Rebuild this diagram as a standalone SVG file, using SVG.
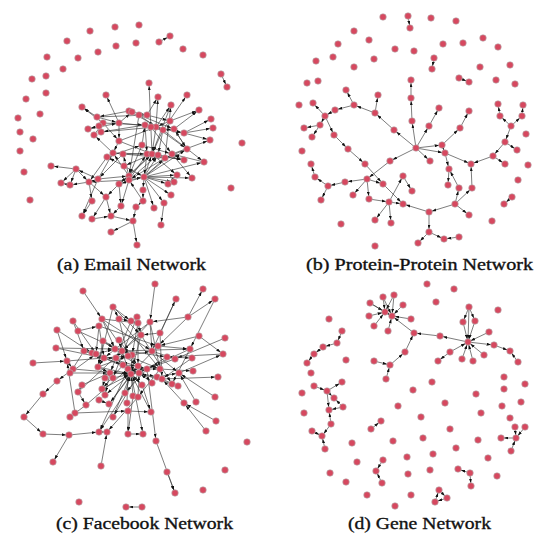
<svg xmlns="http://www.w3.org/2000/svg" width="535" height="540" viewBox="0 0 535 540">
<style>
.n{fill:#d6485f;stroke:#b5b5b5;stroke-width:.6}
.e line{stroke:#333;stroke-width:.75;stroke-opacity:.85;marker-end:url(#ah)}
.cap{font-family:"Liberation Serif","DejaVu Serif",serif;font-size:17px;fill:#111;stroke:#111;stroke-width:.35}
</style>
<defs>
<marker id="ah" markerUnits="userSpaceOnUse" viewBox="0 0 5 3" markerWidth="5" markerHeight="3" refX="7.4" refY="1.5" orient="auto"><path d="M0,0 L4.5,1.5 L0,3 z" fill="#111"/></marker>
</defs>
<rect width="535" height="540" fill="#fff"/>

<g id="connectors-a" class="e">
<line x1="159" y1="42" x2="170" y2="36"/><line x1="221" y1="74" x2="227" y2="87"/>
<line x1="152" y1="154" x2="149" y2="83"/><line x1="119" y1="123" x2="106" y2="95"/><line x1="147" y1="115" x2="158" y2="97"/><line x1="156" y1="127" x2="158" y2="97"/><line x1="163" y1="130" x2="187" y2="95"/><line x1="156" y1="127" x2="171" y2="105"/><line x1="165" y1="158" x2="171" y2="105"/><line x1="97" y1="117" x2="82" y2="107"/><line x1="103" y1="123" x2="82" y2="107"/><line x1="174" y1="129" x2="199" y2="110"/><line x1="184" y1="133" x2="211" y2="119"/><line x1="184" y1="133" x2="213" y2="128"/><line x1="184" y1="133" x2="210" y2="140"/><line x1="172" y1="154" x2="210" y2="140"/><line x1="129" y1="111" x2="97" y2="117"/><line x1="132" y1="112" x2="147" y2="115"/><line x1="139" y1="115" x2="156" y2="127"/><line x1="119" y1="123" x2="132" y2="112"/><line x1="97" y1="117" x2="119" y2="123"/><line x1="103" y1="123" x2="145" y2="125"/><line x1="88" y1="129" x2="119" y2="123"/><line x1="94" y1="135" x2="103" y2="123"/><line x1="101" y1="132" x2="156" y2="127"/><line x1="145" y1="125" x2="163" y2="130"/><line x1="156" y1="127" x2="184" y2="133"/><line x1="163" y1="130" x2="174" y2="129"/><line x1="170" y1="121" x2="156" y2="127"/><line x1="147" y1="115" x2="170" y2="121"/><line x1="119" y1="123" x2="119" y2="141"/><line x1="119" y1="141" x2="113" y2="153"/><line x1="142" y1="145" x2="145" y2="125"/><line x1="145" y1="125" x2="147" y2="154"/><line x1="156" y1="127" x2="152" y2="154"/><line x1="163" y1="130" x2="158" y2="155"/><line x1="187" y1="149" x2="165" y2="158"/><line x1="204" y1="162" x2="172" y2="154"/><line x1="184" y1="160" x2="172" y2="154"/><line x1="152" y1="154" x2="184" y2="160"/><line x1="113" y1="153" x2="147" y2="154"/><line x1="123" y1="154" x2="152" y2="154"/><line x1="107" y1="157" x2="142" y2="145"/><line x1="124" y1="166" x2="107" y2="157"/><line x1="129" y1="176" x2="123" y2="154"/><line x1="144" y1="177" x2="152" y2="154"/><line x1="144" y1="177" x2="158" y2="155"/><line x1="144" y1="177" x2="165" y2="158"/><line x1="144" y1="177" x2="172" y2="154"/><line x1="144" y1="177" x2="187" y2="149"/><line x1="144" y1="177" x2="204" y2="162"/><line x1="144" y1="177" x2="177" y2="175"/><line x1="144" y1="177" x2="192" y2="178"/><line x1="129" y1="180" x2="144" y2="177"/><line x1="129" y1="180" x2="158" y2="155"/><line x1="129" y1="180" x2="147" y2="154"/><line x1="76" y1="169" x2="51" y2="166"/><line x1="76" y1="169" x2="61" y2="183"/><line x1="76" y1="169" x2="70" y2="185"/><line x1="76" y1="169" x2="89" y2="182"/><line x1="89" y1="182" x2="98" y2="179"/><line x1="98" y1="179" x2="129" y2="176"/><line x1="89" y1="182" x2="70" y2="185"/><line x1="107" y1="157" x2="89" y2="182"/><line x1="119" y1="184" x2="129" y2="176"/><line x1="89" y1="182" x2="92" y2="201"/><line x1="89" y1="182" x2="106" y2="197"/><line x1="119" y1="184" x2="106" y2="197"/><line x1="129" y1="180" x2="121" y2="206"/><line x1="144" y1="177" x2="143" y2="190"/><line x1="143" y1="190" x2="143" y2="201"/><line x1="144" y1="177" x2="168" y2="184"/><line x1="144" y1="177" x2="174" y2="182"/><line x1="144" y1="177" x2="171" y2="195"/><line x1="144" y1="177" x2="164" y2="203"/><line x1="144" y1="177" x2="154" y2="208"/><line x1="143" y1="201" x2="136" y2="207"/><line x1="106" y1="197" x2="92" y2="219"/><line x1="92" y1="201" x2="82" y2="216"/><line x1="106" y1="197" x2="111" y2="216"/><line x1="121" y1="206" x2="111" y2="216"/><line x1="92" y1="219" x2="111" y2="216"/><line x1="111" y1="216" x2="133" y2="221"/><line x1="133" y1="221" x2="137" y2="245"/><line x1="133" y1="221" x2="111" y2="232"/><line x1="136" y1="207" x2="133" y2="221"/><line x1="164" y1="203" x2="161" y2="225"/><line x1="98" y1="179" x2="82" y2="216"/><line x1="158" y1="155" x2="184" y2="160"/><line x1="172" y1="154" x2="192" y2="178"/><line x1="177" y1="175" x2="168" y2="184"/><line x1="152" y1="154" x2="124" y2="166"/><line x1="129" y1="176" x2="113" y2="153"/><line x1="151" y1="127" x2="172" y2="154"/><line x1="99" y1="126" x2="88" y2="129"/><line x1="101" y1="132" x2="99" y2="126"/><line x1="113" y1="153" x2="94" y2="135"/><line x1="142" y1="145" x2="129" y2="176"/><line x1="145" y1="125" x2="101" y2="132"/><line x1="171" y1="105" x2="152" y2="154"/><line x1="119" y1="141" x2="156" y2="127"/><line x1="187" y1="149" x2="174" y2="129"/><line x1="163" y1="130" x2="152" y2="154"/><line x1="165" y1="158" x2="129" y2="180"/><line x1="152" y1="154" x2="119" y2="184"/><line x1="139" y1="115" x2="129" y2="176"/><line x1="147" y1="154" x2="144" y2="177"/><line x1="174" y1="129" x2="187" y2="149"/><line x1="170" y1="121" x2="199" y2="110"/><line x1="98" y1="179" x2="76" y2="169"/><line x1="129" y1="180" x2="89" y2="182"/><line x1="123" y1="154" x2="98" y2="179"/><line x1="143" y1="201" x2="129" y2="180"/><line x1="119" y1="184" x2="121" y2="206"/><line x1="70" y1="185" x2="61" y2="183"/>
<line x1="97" y1="117" x2="147" y2="115"/><line x1="129" y1="111" x2="163" y2="130"/><line x1="119" y1="123" x2="156" y2="127"/><line x1="103" y1="123" x2="119" y2="141"/><line x1="145" y1="125" x2="184" y2="133"/><line x1="156" y1="127" x2="187" y2="149"/><line x1="113" y1="153" x2="165" y2="158"/><line x1="119" y1="141" x2="152" y2="154"/><line x1="142" y1="145" x2="172" y2="154"/><line x1="124" y1="166" x2="144" y2="177"/><line x1="129" y1="176" x2="152" y2="154"/><line x1="98" y1="179" x2="113" y2="153"/><line x1="147" y1="154" x2="184" y2="160"/><line x1="152" y1="154" x2="177" y2="175"/><line x1="163" y1="130" x2="204" y2="162"/><line x1="139" y1="115" x2="174" y2="129"/><line x1="144" y1="177" x2="119" y2="184"/>
</g>

<g id="connectors-b" class="e">
<line x1="408" y1="16" x2="410" y2="28"/><line x1="434" y1="58" x2="432" y2="69"/><line x1="459" y1="78" x2="469" y2="82"/><line x1="512" y1="197" x2="504" y2="204"/>
<line x1="416" y1="148" x2="412" y2="121"/><line x1="412" y1="121" x2="411" y2="98"/><line x1="411" y1="98" x2="411" y2="80"/><line x1="416" y1="148" x2="429" y2="126"/><line x1="429" y1="126" x2="439" y2="108"/><line x1="416" y1="148" x2="442" y2="145"/><line x1="442" y1="145" x2="460" y2="128"/><line x1="460" y1="128" x2="469" y2="111"/><line x1="416" y1="148" x2="445" y2="153"/><line x1="445" y1="153" x2="471" y2="164"/><line x1="442" y1="145" x2="445" y2="153"/><line x1="416" y1="148" x2="430" y2="161"/><line x1="445" y1="153" x2="449" y2="169"/><line x1="449" y1="169" x2="448" y2="185"/><line x1="416" y1="148" x2="394" y2="130"/><line x1="394" y1="130" x2="375" y2="113"/><line x1="375" y1="113" x2="378" y2="95"/><line x1="375" y1="113" x2="354" y2="105"/><line x1="354" y1="105" x2="346" y2="90"/><line x1="354" y1="105" x2="335" y2="110"/><line x1="335" y1="110" x2="325" y2="116"/><line x1="325" y1="116" x2="313" y2="103"/><line x1="325" y1="116" x2="320" y2="125"/><line x1="320" y1="125" x2="304" y2="128"/><line x1="320" y1="125" x2="312" y2="137"/><line x1="325" y1="116" x2="334" y2="135"/><line x1="334" y1="135" x2="348" y2="149"/><line x1="348" y1="149" x2="365" y2="164"/><line x1="365" y1="164" x2="383" y2="184"/><line x1="383" y1="184" x2="403" y2="204"/><line x1="416" y1="148" x2="390" y2="161"/><line x1="390" y1="161" x2="367" y2="179"/><line x1="367" y1="179" x2="345" y2="182"/><line x1="345" y1="182" x2="328" y2="186"/><line x1="328" y1="186" x2="321" y2="200"/><line x1="328" y1="186" x2="315" y2="177"/><line x1="315" y1="177" x2="311" y2="164"/><line x1="367" y1="179" x2="353" y2="195"/><line x1="367" y1="179" x2="369" y2="199"/><line x1="367" y1="179" x2="383" y2="184"/><line x1="369" y1="199" x2="389" y2="202"/><line x1="389" y1="202" x2="403" y2="176"/><line x1="403" y1="176" x2="412" y2="191"/><line x1="389" y1="202" x2="375" y2="220"/><line x1="389" y1="202" x2="391" y2="223"/><line x1="389" y1="202" x2="403" y2="204"/><line x1="429" y1="212" x2="403" y2="204"/><line x1="455" y1="204" x2="429" y2="212"/><line x1="455" y1="204" x2="469" y2="215"/><line x1="455" y1="204" x2="472" y2="188"/><line x1="472" y1="188" x2="471" y2="164"/><line x1="455" y1="204" x2="459" y2="188"/><line x1="459" y1="188" x2="449" y2="169"/><line x1="493" y1="156" x2="471" y2="164"/><line x1="493" y1="156" x2="505" y2="164"/><line x1="505" y1="142" x2="493" y2="156"/><line x1="505" y1="142" x2="517" y2="150"/><line x1="511" y1="126" x2="505" y2="142"/><line x1="511" y1="126" x2="500" y2="116"/><line x1="500" y1="116" x2="498" y2="104"/><line x1="511" y1="126" x2="522" y2="116"/><line x1="522" y1="116" x2="523" y2="105"/><line x1="429" y1="212" x2="429" y2="232"/><line x1="429" y1="232" x2="418" y2="243"/><line x1="429" y1="232" x2="444" y2="239"/><line x1="459" y1="237" x2="444" y2="239"/>
</g>

<g id="connectors-c" class="e">
<line x1="155" y1="284" x2="150" y2="322"/><line x1="83" y1="291" x2="102" y2="319"/><line x1="188" y1="317" x2="203" y2="289"/><line x1="188" y1="317" x2="215" y2="299"/><line x1="160" y1="333" x2="176" y2="299"/><line x1="113" y1="307" x2="131" y2="321"/><line x1="113" y1="307" x2="119" y2="319"/><line x1="188" y1="317" x2="150" y2="322"/><line x1="188" y1="317" x2="158" y2="346"/><line x1="73" y1="321" x2="96" y2="354"/><line x1="102" y1="319" x2="138" y2="323"/><line x1="102" y1="319" x2="128" y2="356"/><line x1="119" y1="319" x2="131" y2="321"/><line x1="131" y1="321" x2="138" y2="323"/><line x1="137" y1="317" x2="141" y2="335"/><line x1="138" y1="323" x2="132" y2="355"/><line x1="150" y1="322" x2="152" y2="351"/><line x1="150" y1="322" x2="116" y2="358"/><line x1="57" y1="330" x2="92" y2="353"/><line x1="78" y1="331" x2="99" y2="326"/><line x1="99" y1="326" x2="96" y2="354"/><line x1="160" y1="333" x2="141" y2="335"/><line x1="141" y1="335" x2="122" y2="351"/><line x1="199" y1="336" x2="158" y2="346"/><line x1="199" y1="336" x2="223" y2="354"/><line x1="225" y1="338" x2="175" y2="359"/><line x1="103" y1="341" x2="115" y2="349"/><line x1="119" y1="340" x2="122" y2="351"/><line x1="158" y1="346" x2="190" y2="349"/><line x1="56" y1="348" x2="104" y2="358"/><line x1="84" y1="351" x2="92" y2="353"/><line x1="96" y1="354" x2="115" y2="349"/><line x1="115" y1="349" x2="167" y2="357"/><line x1="122" y1="351" x2="190" y2="349"/><line x1="132" y1="355" x2="152" y2="351"/><line x1="128" y1="356" x2="160" y2="369"/><line x1="152" y1="351" x2="175" y2="359"/><line x1="167" y1="357" x2="192" y2="358"/><line x1="33" y1="363" x2="67" y2="361"/><line x1="67" y1="361" x2="73" y2="369"/><line x1="104" y1="358" x2="116" y2="358"/><line x1="98" y1="367" x2="128" y2="356"/><line x1="123" y1="365" x2="138" y2="366"/><line x1="128" y1="369" x2="147" y2="369"/><line x1="147" y1="369" x2="160" y2="369"/><line x1="160" y1="369" x2="193" y2="371"/><line x1="73" y1="369" x2="57" y2="381"/><line x1="70" y1="373" x2="110" y2="373"/><line x1="110" y1="373" x2="131" y2="374"/><line x1="131" y1="374" x2="139" y2="373"/><line x1="139" y1="373" x2="157" y2="377"/><line x1="157" y1="377" x2="179" y2="373"/><line x1="162" y1="379" x2="218" y2="377"/><line x1="179" y1="373" x2="223" y2="354"/><line x1="57" y1="381" x2="43" y2="394"/><line x1="43" y1="394" x2="24" y2="417"/><line x1="24" y1="417" x2="43" y2="434"/><line x1="43" y1="434" x2="69" y2="435"/><line x1="69" y1="435" x2="53" y2="462"/><line x1="69" y1="435" x2="99" y2="432"/><line x1="82" y1="385" x2="78" y2="392"/><line x1="78" y1="392" x2="86" y2="405"/><line x1="86" y1="405" x2="70" y2="417"/><line x1="75" y1="413" x2="67" y2="361"/><line x1="105" y1="378" x2="102" y2="389"/><line x1="113" y1="378" x2="131" y2="374"/><line x1="102" y1="389" x2="105" y2="395"/><line x1="142" y1="385" x2="131" y2="374"/><line x1="152" y1="383" x2="139" y2="373"/><line x1="172" y1="384" x2="139" y2="373"/><line x1="178" y1="386" x2="157" y2="377"/><line x1="125" y1="393" x2="131" y2="374"/><line x1="133" y1="396" x2="131" y2="374"/><line x1="138" y1="397" x2="139" y2="373"/><line x1="215" y1="397" x2="179" y2="373"/><line x1="99" y1="400" x2="109" y2="404"/><line x1="109" y1="404" x2="131" y2="374"/><line x1="127" y1="403" x2="128" y2="369"/><line x1="184" y1="403" x2="162" y2="379"/><line x1="196" y1="402" x2="179" y2="373"/><line x1="151" y1="412" x2="131" y2="374"/><line x1="128" y1="411" x2="128" y2="434"/><line x1="113" y1="417" x2="131" y2="374"/><line x1="216" y1="421" x2="184" y2="403"/><line x1="206" y1="431" x2="184" y2="403"/><line x1="99" y1="432" x2="107" y2="432"/><line x1="101" y1="466" x2="107" y2="432"/><line x1="128" y1="434" x2="143" y2="434"/><line x1="156" y1="441" x2="175" y2="493"/><line x1="147" y1="369" x2="156" y2="441"/><line x1="167" y1="472" x2="175" y2="493"/><line x1="142" y1="507" x2="126" y2="507"/><line x1="92" y1="353" x2="123" y2="365"/><line x1="104" y1="358" x2="98" y2="367"/><line x1="116" y1="358" x2="131" y2="374"/><line x1="122" y1="351" x2="128" y2="369"/><line x1="132" y1="355" x2="131" y2="374"/><line x1="115" y1="349" x2="138" y2="366"/><line x1="98" y1="367" x2="110" y2="373"/><line x1="96" y1="354" x2="147" y2="369"/><line x1="119" y1="319" x2="128" y2="356"/><line x1="103" y1="341" x2="98" y2="367"/><line x1="99" y1="326" x2="104" y2="358"/><line x1="138" y1="323" x2="138" y2="366"/><line x1="141" y1="335" x2="131" y2="374"/><line x1="113" y1="307" x2="98" y2="367"/><line x1="131" y1="321" x2="110" y2="373"/><line x1="131" y1="374" x2="105" y2="395"/><line x1="139" y1="373" x2="113" y2="417"/><line x1="128" y1="369" x2="99" y2="432"/><line x1="138" y1="397" x2="107" y2="432"/><line x1="131" y1="374" x2="143" y2="434"/><line x1="84" y1="351" x2="70" y2="373"/><line x1="57" y1="330" x2="67" y2="361"/><line x1="73" y1="321" x2="84" y2="351"/><line x1="150" y1="322" x2="160" y2="369"/><line x1="160" y1="333" x2="162" y2="379"/><line x1="152" y1="351" x2="179" y2="373"/><line x1="190" y1="349" x2="172" y2="384"/><line x1="102" y1="389" x2="131" y2="374"/><line x1="78" y1="392" x2="122" y2="351"/><line x1="86" y1="405" x2="128" y2="369"/><line x1="75" y1="413" x2="128" y2="411"/><line x1="128" y1="411" x2="151" y2="412"/><line x1="102" y1="319" x2="115" y2="349"/>
<line x1="56" y1="348" x2="115" y2="349"/><line x1="67" y1="361" x2="128" y2="356"/><line x1="73" y1="369" x2="131" y2="374"/><line x1="70" y1="373" x2="96" y2="354"/><line x1="78" y1="331" x2="122" y2="351"/><line x1="102" y1="319" x2="152" y2="351"/><line x1="119" y1="319" x2="160" y2="369"/><line x1="137" y1="317" x2="113" y2="378"/><line x1="150" y1="322" x2="104" y2="358"/><line x1="141" y1="335" x2="172" y2="384"/><line x1="158" y1="346" x2="131" y2="374"/><line x1="167" y1="357" x2="139" y2="373"/><line x1="175" y1="359" x2="131" y2="374"/><line x1="190" y1="349" x2="147" y2="369"/><line x1="192" y1="358" x2="162" y2="379"/><line x1="223" y1="354" x2="167" y2="357"/><line x1="98" y1="367" x2="131" y2="374"/><line x1="92" y1="353" x2="139" y2="373"/><line x1="110" y1="373" x2="105" y2="395"/><line x1="125" y1="393" x2="99" y2="432"/><line x1="133" y1="396" x2="128" y2="434"/><line x1="142" y1="385" x2="151" y2="412"/><line x1="82" y1="385" x2="110" y2="373"/><line x1="103" y1="341" x2="132" y2="355"/><line x1="119" y1="340" x2="138" y2="366"/><line x1="113" y1="307" x2="141" y2="335"/><line x1="99" y1="326" x2="158" y2="346"/><line x1="215" y1="299" x2="190" y2="349"/><line x1="176" y1="299" x2="152" y2="351"/><line x1="123" y1="365" x2="102" y2="389"/><line x1="138" y1="366" x2="109" y2="404"/><line x1="147" y1="369" x2="125" y2="393"/><line x1="160" y1="369" x2="138" y2="397"/><line x1="116" y1="358" x2="142" y2="385"/><line x1="128" y1="356" x2="152" y2="383"/>
</g>

<g id="connectors-d" class="e">
<line x1="383" y1="297" x2="385" y2="312"/><line x1="394" y1="295" x2="385" y2="312"/><line x1="370" y1="303" x2="385" y2="312"/><line x1="403" y1="305" x2="392" y2="316"/><line x1="369" y1="316" x2="385" y2="312"/><line x1="374" y1="326" x2="385" y2="312"/><line x1="388" y1="331" x2="392" y2="316"/><line x1="411" y1="319" x2="392" y2="316"/><line x1="383" y1="297" x2="392" y2="316"/><line x1="394" y1="295" x2="392" y2="316"/><line x1="370" y1="303" x2="392" y2="316"/><line x1="385" y1="312" x2="392" y2="316"/><line x1="414" y1="333" x2="392" y2="316"/><line x1="440" y1="336" x2="414" y2="333"/><line x1="468" y1="342" x2="440" y2="336"/>
<line x1="469" y1="307" x2="468" y2="342"/><line x1="469" y1="307" x2="463" y2="322"/><line x1="469" y1="307" x2="475" y2="321"/><line x1="463" y1="322" x2="468" y2="342"/><line x1="475" y1="321" x2="468" y2="342"/><line x1="489" y1="332" x2="468" y2="342"/><line x1="468" y1="342" x2="494" y2="345"/><line x1="484" y1="355" x2="468" y2="342"/><line x1="473" y1="361" x2="468" y2="342"/><line x1="462" y1="359" x2="468" y2="342"/><line x1="450" y1="352" x2="468" y2="342"/><line x1="450" y1="352" x2="438" y2="361"/><line x1="494" y1="345" x2="510" y2="351"/><line x1="518" y1="362" x2="510" y2="351"/>
<line x1="405" y1="352" x2="414" y2="333"/><line x1="390" y1="365" x2="405" y2="352"/><line x1="374" y1="361" x2="390" y2="365"/><line x1="386" y1="379" x2="390" y2="365"/>
<line x1="342" y1="331" x2="337" y2="343"/><line x1="337" y1="343" x2="323" y2="347"/><line x1="323" y1="347" x2="314" y2="354"/><line x1="314" y1="354" x2="307" y2="363"/>
<line x1="314" y1="386" x2="327" y2="391"/><line x1="327" y1="391" x2="342" y2="382"/><line x1="327" y1="391" x2="334" y2="398"/><line x1="343" y1="407" x2="334" y2="398"/><line x1="327" y1="391" x2="329" y2="410"/><line x1="343" y1="407" x2="329" y2="410"/><line x1="331" y1="424" x2="329" y2="410"/><line x1="331" y1="424" x2="322" y2="436"/><line x1="312" y1="431" x2="322" y2="436"/><line x1="325" y1="449" x2="322" y2="436"/>
<line x1="371" y1="429" x2="381" y2="421"/>
<line x1="515" y1="427" x2="516" y2="438"/><line x1="525" y1="427" x2="516" y2="438"/><line x1="516" y1="438" x2="501" y2="438"/><line x1="511" y1="451" x2="516" y2="438"/>
<line x1="383" y1="460" x2="376" y2="471"/><line x1="382" y1="483" x2="376" y2="471"/>
<line x1="470" y1="473" x2="458" y2="469"/><line x1="470" y1="473" x2="471" y2="486"/>
<line x1="439" y1="490" x2="447" y2="498"/><line x1="447" y1="498" x2="435" y2="502"/><line x1="435" y1="502" x2="439" y2="490"/>
</g>

<g id="nodes-a">
<circle class="n" r="3.3" cx="115" cy="27"/><circle class="n" r="3.3" cx="139" cy="25"/><circle class="n" r="3.3" cx="90" cy="31"/><circle class="n" r="3.3" cx="67" cy="41"/><circle class="n" r="3.3" cx="116" cy="46"/><circle class="n" r="3.3" cx="136" cy="43"/><circle class="n" r="3.3" cx="159" cy="42"/><circle class="n" r="3.3" cx="170" cy="36"/><circle class="n" r="3.3" cx="183" cy="49"/><circle class="n" r="3.3" cx="203" cy="55"/><circle class="n" r="3.3" cx="47" cy="57"/><circle class="n" r="3.3" cx="78" cy="58"/><circle class="n" r="3.3" cx="98" cy="52"/><circle class="n" r="3.3" cx="63" cy="69"/><circle class="n" r="3.3" cx="32" cy="79"/><circle class="n" r="3.3" cx="46" cy="76"/><circle class="n" r="3.3" cx="26" cy="99"/><circle class="n" r="3.3" cx="46" cy="93"/><circle class="n" r="3.3" cx="221" cy="74"/><circle class="n" r="3.3" cx="227" cy="87"/><circle class="n" r="3.3" cx="18" cy="118"/><circle class="n" r="3.3" cx="40" cy="114"/><circle class="n" r="3.3" cx="20" cy="132"/><circle class="n" r="3.3" cx="33" cy="139"/><circle class="n" r="3.3" cx="20" cy="151"/><circle class="n" r="3.3" cx="24" cy="172"/><circle class="n" r="3.3" cx="30" cy="200"/><circle class="n" r="3.3" cx="242" cy="143"/><circle class="n" r="3.3" cx="231" cy="188"/>
<circle class="n" r="3.3" cx="149" cy="83"/><circle class="n" r="3.3" cx="106" cy="95"/><circle class="n" r="3.3" cx="158" cy="97"/><circle class="n" r="3.3" cx="187" cy="95"/><circle class="n" r="3.3" cx="171" cy="105"/><circle class="n" r="3.3" cx="82" cy="107"/><circle class="n" r="3.3" cx="199" cy="110"/><circle class="n" r="3.3" cx="129" cy="111"/><circle class="n" r="3.3" cx="97" cy="117"/><circle class="n" r="3.3" cx="147" cy="115"/><circle class="n" r="3.3" cx="211" cy="119"/><circle class="n" r="3.3" cx="213" cy="128"/><circle class="n" r="3.3" cx="170" cy="121"/><circle class="n" r="3.3" cx="119" cy="123"/><circle class="n" r="3.3" cx="103" cy="123"/><circle class="n" r="3.3" cx="145" cy="125"/><circle class="n" r="3.3" cx="156" cy="127"/><circle class="n" r="3.3" cx="163" cy="130"/><circle class="n" r="3.3" cx="174" cy="129"/><circle class="n" r="3.3" cx="184" cy="133"/><circle class="n" r="3.3" cx="88" cy="129"/><circle class="n" r="3.3" cx="94" cy="135"/><circle class="n" r="3.3" cx="101" cy="132"/><circle class="n" r="3.3" cx="210" cy="140"/><circle class="n" r="3.3" cx="119" cy="141"/><circle class="n" r="3.3" cx="142" cy="145"/><circle class="n" r="3.3" cx="187" cy="149"/><circle class="n" r="3.3" cx="113" cy="153"/><circle class="n" r="3.3" cx="123" cy="154"/><circle class="n" r="3.3" cx="107" cy="157"/><circle class="n" r="3.3" cx="147" cy="154"/><circle class="n" r="3.3" cx="152" cy="154"/><circle class="n" r="3.3" cx="158" cy="155"/><circle class="n" r="3.3" cx="165" cy="158"/><circle class="n" r="3.3" cx="172" cy="154"/><circle class="n" r="3.3" cx="184" cy="160"/><circle class="n" r="3.3" cx="204" cy="162"/><circle class="n" r="3.3" cx="124" cy="166"/><circle class="n" r="3.3" cx="51" cy="166"/><circle class="n" r="3.3" cx="76" cy="169"/><circle class="n" r="3.3" cx="129" cy="176"/><circle class="n" r="3.3" cx="144" cy="177"/><circle class="n" r="3.3" cx="177" cy="175"/><circle class="n" r="3.3" cx="192" cy="178"/><circle class="n" r="3.3" cx="129" cy="180"/><circle class="n" r="3.3" cx="98" cy="179"/><circle class="n" r="3.3" cx="89" cy="182"/><circle class="n" r="3.3" cx="61" cy="183"/><circle class="n" r="3.3" cx="70" cy="185"/><circle class="n" r="3.3" cx="119" cy="184"/><circle class="n" r="3.3" cx="168" cy="184"/><circle class="n" r="3.3" cx="174" cy="182"/><circle class="n" r="3.3" cx="143" cy="190"/><circle class="n" r="3.3" cx="171" cy="195"/><circle class="n" r="3.3" cx="92" cy="201"/><circle class="n" r="3.3" cx="106" cy="197"/><circle class="n" r="3.3" cx="143" cy="201"/><circle class="n" r="3.3" cx="164" cy="203"/><circle class="n" r="3.3" cx="154" cy="208"/><circle class="n" r="3.3" cx="136" cy="207"/><circle class="n" r="3.3" cx="121" cy="206"/><circle class="n" r="3.3" cx="82" cy="216"/><circle class="n" r="3.3" cx="92" cy="219"/><circle class="n" r="3.3" cx="111" cy="216"/><circle class="n" r="3.3" cx="133" cy="221"/><circle class="n" r="3.3" cx="161" cy="225"/><circle class="n" r="3.3" cx="111" cy="232"/><circle class="n" r="3.3" cx="137" cy="245"/><circle class="n" r="3.3" cx="132" cy="112"/><circle class="n" r="3.3" cx="139" cy="115"/><circle class="n" r="3.3" cx="151" cy="127"/><circle class="n" r="3.3" cx="99" cy="126"/>
</g>

<g id="nodes-b">
<circle class="n" r="3.3" cx="383" cy="17"/><circle class="n" r="3.3" cx="408" cy="16"/><circle class="n" r="3.3" cx="410" cy="28"/><circle class="n" r="3.3" cx="431" cy="18"/><circle class="n" r="3.3" cx="456" cy="21"/><circle class="n" r="3.3" cx="354" cy="31"/><circle class="n" r="3.3" cx="338" cy="44"/><circle class="n" r="3.3" cx="369" cy="40"/><circle class="n" r="3.3" cx="443" cy="44"/><circle class="n" r="3.3" cx="463" cy="43"/><circle class="n" r="3.3" cx="483" cy="38"/><circle class="n" r="3.3" cx="498" cy="47"/><circle class="n" r="3.3" cx="395" cy="49"/><circle class="n" r="3.3" cx="414" cy="51"/><circle class="n" r="3.3" cx="316" cy="61"/><circle class="n" r="3.3" cx="333" cy="57"/><circle class="n" r="3.3" cx="374" cy="59"/><circle class="n" r="3.3" cx="434" cy="58"/><circle class="n" r="3.3" cx="432" cy="69"/><circle class="n" r="3.3" cx="354" cy="67"/><circle class="n" r="3.3" cx="480" cy="67"/><circle class="n" r="3.3" cx="510" cy="65"/><circle class="n" r="3.3" cx="307" cy="83"/><circle class="n" r="3.3" cx="318" cy="81"/><circle class="n" r="3.3" cx="459" cy="78"/><circle class="n" r="3.3" cx="469" cy="82"/><circle class="n" r="3.3" cx="496" cy="80"/><circle class="n" r="3.3" cx="515" cy="84"/><circle class="n" r="3.3" cx="299" cy="105"/><circle class="n" r="3.3" cx="302" cy="151"/><circle class="n" r="3.3" cx="526" cy="134"/><circle class="n" r="3.3" cx="528" cy="165"/><circle class="n" r="3.3" cx="518" cy="180"/><circle class="n" r="3.3" cx="512" cy="197"/><circle class="n" r="3.3" cx="504" cy="204"/><circle class="n" r="3.3" cx="492" cy="221"/><circle class="n" r="3.3" cx="341" cy="224"/><circle class="n" r="3.3" cx="375" cy="246"/>
<circle class="n" r="3.3" cx="416" cy="148"/><circle class="n" r="3.3" cx="411" cy="80"/><circle class="n" r="3.3" cx="411" cy="98"/><circle class="n" r="3.3" cx="412" cy="121"/><circle class="n" r="3.3" cx="439" cy="108"/><circle class="n" r="3.3" cx="429" cy="126"/><circle class="n" r="3.3" cx="469" cy="111"/><circle class="n" r="3.3" cx="460" cy="128"/><circle class="n" r="3.3" cx="442" cy="145"/><circle class="n" r="3.3" cx="445" cy="153"/><circle class="n" r="3.3" cx="430" cy="161"/><circle class="n" r="3.3" cx="449" cy="169"/><circle class="n" r="3.3" cx="448" cy="185"/><circle class="n" r="3.3" cx="459" cy="188"/><circle class="n" r="3.3" cx="390" cy="161"/><circle class="n" r="3.3" cx="394" cy="130"/><circle class="n" r="3.3" cx="375" cy="113"/><circle class="n" r="3.3" cx="378" cy="95"/><circle class="n" r="3.3" cx="354" cy="105"/><circle class="n" r="3.3" cx="346" cy="90"/><circle class="n" r="3.3" cx="335" cy="110"/><circle class="n" r="3.3" cx="313" cy="103"/><circle class="n" r="3.3" cx="325" cy="116"/><circle class="n" r="3.3" cx="320" cy="125"/><circle class="n" r="3.3" cx="304" cy="128"/><circle class="n" r="3.3" cx="312" cy="137"/><circle class="n" r="3.3" cx="334" cy="135"/><circle class="n" r="3.3" cx="348" cy="149"/><circle class="n" r="3.3" cx="365" cy="164"/><circle class="n" r="3.3" cx="383" cy="184"/><circle class="n" r="3.3" cx="367" cy="179"/><circle class="n" r="3.3" cx="345" cy="182"/><circle class="n" r="3.3" cx="328" cy="186"/><circle class="n" r="3.3" cx="321" cy="200"/><circle class="n" r="3.3" cx="315" cy="177"/><circle class="n" r="3.3" cx="311" cy="164"/><circle class="n" r="3.3" cx="353" cy="195"/><circle class="n" r="3.3" cx="369" cy="199"/><circle class="n" r="3.3" cx="389" cy="202"/><circle class="n" r="3.3" cx="403" cy="176"/><circle class="n" r="3.3" cx="412" cy="191"/><circle class="n" r="3.3" cx="375" cy="220"/><circle class="n" r="3.3" cx="391" cy="223"/><circle class="n" r="3.3" cx="403" cy="204"/><circle class="n" r="3.3" cx="429" cy="212"/><circle class="n" r="3.3" cx="429" cy="232"/><circle class="n" r="3.3" cx="418" cy="243"/><circle class="n" r="3.3" cx="444" cy="239"/><circle class="n" r="3.3" cx="459" cy="237"/><circle class="n" r="3.3" cx="455" cy="204"/><circle class="n" r="3.3" cx="469" cy="215"/><circle class="n" r="3.3" cx="472" cy="188"/><circle class="n" r="3.3" cx="471" cy="164"/><circle class="n" r="3.3" cx="493" cy="156"/><circle class="n" r="3.3" cx="505" cy="164"/><circle class="n" r="3.3" cx="505" cy="142"/><circle class="n" r="3.3" cx="517" cy="150"/><circle class="n" r="3.3" cx="511" cy="126"/><circle class="n" r="3.3" cx="500" cy="116"/><circle class="n" r="3.3" cx="498" cy="104"/><circle class="n" r="3.3" cx="522" cy="116"/><circle class="n" r="3.3" cx="523" cy="105"/>
</g>

<g id="nodes-c">
<circle class="n" r="3.3" cx="155" cy="284"/><circle class="n" r="3.3" cx="83" cy="291"/><circle class="n" r="3.3" cx="203" cy="289"/><circle class="n" r="3.3" cx="215" cy="299"/><circle class="n" r="3.3" cx="176" cy="299"/><circle class="n" r="3.3" cx="113" cy="307"/><circle class="n" r="3.3" cx="188" cy="317"/><circle class="n" r="3.3" cx="73" cy="321"/><circle class="n" r="3.3" cx="102" cy="319"/><circle class="n" r="3.3" cx="119" cy="319"/><circle class="n" r="3.3" cx="131" cy="321"/><circle class="n" r="3.3" cx="137" cy="317"/><circle class="n" r="3.3" cx="138" cy="323"/><circle class="n" r="3.3" cx="150" cy="322"/><circle class="n" r="3.3" cx="57" cy="330"/><circle class="n" r="3.3" cx="78" cy="331"/><circle class="n" r="3.3" cx="99" cy="326"/><circle class="n" r="3.3" cx="160" cy="333"/><circle class="n" r="3.3" cx="141" cy="335"/><circle class="n" r="3.3" cx="199" cy="336"/><circle class="n" r="3.3" cx="225" cy="338"/><circle class="n" r="3.3" cx="103" cy="341"/><circle class="n" r="3.3" cx="119" cy="340"/><circle class="n" r="3.3" cx="158" cy="346"/><circle class="n" r="3.3" cx="56" cy="348"/><circle class="n" r="3.3" cx="84" cy="351"/><circle class="n" r="3.3" cx="92" cy="353"/><circle class="n" r="3.3" cx="96" cy="354"/><circle class="n" r="3.3" cx="115" cy="349"/><circle class="n" r="3.3" cx="122" cy="351"/><circle class="n" r="3.3" cx="132" cy="355"/><circle class="n" r="3.3" cx="128" cy="356"/><circle class="n" r="3.3" cx="152" cy="351"/><circle class="n" r="3.3" cx="190" cy="349"/><circle class="n" r="3.3" cx="223" cy="354"/><circle class="n" r="3.3" cx="33" cy="363"/><circle class="n" r="3.3" cx="67" cy="361"/><circle class="n" r="3.3" cx="104" cy="358"/><circle class="n" r="3.3" cx="116" cy="358"/><circle class="n" r="3.3" cx="167" cy="357"/><circle class="n" r="3.3" cx="175" cy="359"/><circle class="n" r="3.3" cx="192" cy="358"/><circle class="n" r="3.3" cx="73" cy="369"/><circle class="n" r="3.3" cx="98" cy="367"/><circle class="n" r="3.3" cx="123" cy="365"/><circle class="n" r="3.3" cx="128" cy="369"/><circle class="n" r="3.3" cx="138" cy="366"/><circle class="n" r="3.3" cx="147" cy="369"/><circle class="n" r="3.3" cx="160" cy="369"/><circle class="n" r="3.3" cx="70" cy="373"/><circle class="n" r="3.3" cx="110" cy="373"/><circle class="n" r="3.3" cx="131" cy="374"/><circle class="n" r="3.3" cx="139" cy="373"/><circle class="n" r="3.3" cx="157" cy="377"/><circle class="n" r="3.3" cx="162" cy="379"/><circle class="n" r="3.3" cx="179" cy="373"/><circle class="n" r="3.3" cx="193" cy="371"/><circle class="n" r="3.3" cx="218" cy="377"/><circle class="n" r="3.3" cx="57" cy="381"/><circle class="n" r="3.3" cx="105" cy="378"/><circle class="n" r="3.3" cx="113" cy="378"/><circle class="n" r="3.3" cx="82" cy="385"/><circle class="n" r="3.3" cx="102" cy="389"/><circle class="n" r="3.3" cx="142" cy="385"/><circle class="n" r="3.3" cx="152" cy="383"/><circle class="n" r="3.3" cx="172" cy="384"/><circle class="n" r="3.3" cx="178" cy="386"/><circle class="n" r="3.3" cx="43" cy="394"/><circle class="n" r="3.3" cx="78" cy="392"/><circle class="n" r="3.3" cx="105" cy="395"/><circle class="n" r="3.3" cx="125" cy="393"/><circle class="n" r="3.3" cx="133" cy="396"/><circle class="n" r="3.3" cx="138" cy="397"/><circle class="n" r="3.3" cx="215" cy="397"/><circle class="n" r="3.3" cx="99" cy="400"/><circle class="n" r="3.3" cx="109" cy="404"/><circle class="n" r="3.3" cx="127" cy="403"/><circle class="n" r="3.3" cx="184" cy="403"/><circle class="n" r="3.3" cx="196" cy="402"/><circle class="n" r="3.3" cx="86" cy="405"/><circle class="n" r="3.3" cx="75" cy="413"/><circle class="n" r="3.3" cx="151" cy="412"/><circle class="n" r="3.3" cx="128" cy="411"/><circle class="n" r="3.3" cx="24" cy="417"/><circle class="n" r="3.3" cx="70" cy="417"/><circle class="n" r="3.3" cx="113" cy="417"/><circle class="n" r="3.3" cx="216" cy="421"/><circle class="n" r="3.3" cx="206" cy="431"/><circle class="n" r="3.3" cx="43" cy="434"/><circle class="n" r="3.3" cx="69" cy="435"/><circle class="n" r="3.3" cx="99" cy="432"/><circle class="n" r="3.3" cx="107" cy="432"/><circle class="n" r="3.3" cx="128" cy="434"/><circle class="n" r="3.3" cx="143" cy="434"/><circle class="n" r="3.3" cx="156" cy="441"/><circle class="n" r="3.3" cx="247" cy="442"/><circle class="n" r="3.3" cx="53" cy="462"/><circle class="n" r="3.3" cx="101" cy="466"/><circle class="n" r="3.3" cx="167" cy="472"/><circle class="n" r="3.3" cx="225" cy="470"/><circle class="n" r="3.3" cx="175" cy="493"/><circle class="n" r="3.3" cx="203" cy="490"/><circle class="n" r="3.3" cx="79" cy="502"/><circle class="n" r="3.3" cx="126" cy="507"/><circle class="n" r="3.3" cx="142" cy="507"/>
</g>

<g id="nodes-d">
<circle class="n" r="3.3" cx="427" cy="284"/><circle class="n" r="3.3" cx="454" cy="289"/><circle class="n" r="3.3" cx="436" cy="302"/><circle class="n" r="3.3" cx="498" cy="310"/><circle class="n" r="3.3" cx="383" cy="297"/><circle class="n" r="3.3" cx="394" cy="295"/><circle class="n" r="3.3" cx="370" cy="303"/><circle class="n" r="3.3" cx="403" cy="305"/><circle class="n" r="3.3" cx="369" cy="316"/><circle class="n" r="3.3" cx="374" cy="326"/><circle class="n" r="3.3" cx="388" cy="331"/><circle class="n" r="3.3" cx="411" cy="319"/><circle class="n" r="3.3" cx="385" cy="312"/><circle class="n" r="3.3" cx="392" cy="316"/><circle class="n" r="3.3" cx="414" cy="333"/><circle class="n" r="3.3" cx="440" cy="336"/><circle class="n" r="3.3" cx="469" cy="307"/><circle class="n" r="3.3" cx="463" cy="322"/><circle class="n" r="3.3" cx="475" cy="321"/><circle class="n" r="3.3" cx="489" cy="332"/><circle class="n" r="3.3" cx="494" cy="345"/><circle class="n" r="3.3" cx="484" cy="355"/><circle class="n" r="3.3" cx="473" cy="361"/><circle class="n" r="3.3" cx="462" cy="359"/><circle class="n" r="3.3" cx="450" cy="352"/><circle class="n" r="3.3" cx="438" cy="361"/><circle class="n" r="3.3" cx="468" cy="342"/><circle class="n" r="3.3" cx="510" cy="351"/><circle class="n" r="3.3" cx="518" cy="362"/><circle class="n" r="3.3" cx="405" cy="352"/><circle class="n" r="3.3" cx="390" cy="365"/><circle class="n" r="3.3" cx="374" cy="361"/><circle class="n" r="3.3" cx="386" cy="379"/><circle class="n" r="3.3" cx="329" cy="319"/><circle class="n" r="3.3" cx="342" cy="331"/><circle class="n" r="3.3" cx="337" cy="343"/><circle class="n" r="3.3" cx="323" cy="347"/><circle class="n" r="3.3" cx="314" cy="354"/><circle class="n" r="3.3" cx="307" cy="363"/><circle class="n" r="3.3" cx="346" cy="360"/><circle class="n" r="3.3" cx="311" cy="373"/><circle class="n" r="3.3" cx="314" cy="386"/><circle class="n" r="3.3" cx="327" cy="391"/><circle class="n" r="3.3" cx="342" cy="382"/><circle class="n" r="3.3" cx="334" cy="398"/><circle class="n" r="3.3" cx="343" cy="407"/><circle class="n" r="3.3" cx="329" cy="410"/><circle class="n" r="3.3" cx="331" cy="424"/><circle class="n" r="3.3" cx="312" cy="431"/><circle class="n" r="3.3" cx="322" cy="436"/><circle class="n" r="3.3" cx="325" cy="449"/><circle class="n" r="3.3" cx="302" cy="393"/><circle class="n" r="3.3" cx="304" cy="413"/><circle class="n" r="3.3" cx="413" cy="390"/><circle class="n" r="3.3" cx="432" cy="382"/><circle class="n" r="3.3" cx="398" cy="406"/><circle class="n" r="3.3" cx="445" cy="403"/><circle class="n" r="3.3" cx="421" cy="417"/><circle class="n" r="3.3" cx="476" cy="394"/><circle class="n" r="3.3" cx="481" cy="413"/><circle class="n" r="3.3" cx="504" cy="377"/><circle class="n" r="3.3" cx="525" cy="384"/><circle class="n" r="3.3" cx="504" cy="389"/><circle class="n" r="3.3" cx="521" cy="402"/><circle class="n" r="3.3" cx="502" cy="406"/><circle class="n" r="3.3" cx="510" cy="418"/><circle class="n" r="3.3" cx="381" cy="421"/><circle class="n" r="3.3" cx="371" cy="429"/><circle class="n" r="3.3" cx="450" cy="429"/><circle class="n" r="3.3" cx="423" cy="438"/><circle class="n" r="3.3" cx="393" cy="441"/><circle class="n" r="3.3" cx="352" cy="443"/><circle class="n" r="3.3" cx="478" cy="440"/><circle class="n" r="3.3" cx="456" cy="448"/><circle class="n" r="3.3" cx="433" cy="454"/><circle class="n" r="3.3" cx="407" cy="457"/><circle class="n" r="3.3" cx="488" cy="458"/><circle class="n" r="3.3" cx="515" cy="427"/><circle class="n" r="3.3" cx="525" cy="427"/><circle class="n" r="3.3" cx="516" cy="438"/><circle class="n" r="3.3" cx="501" cy="438"/><circle class="n" r="3.3" cx="511" cy="451"/><circle class="n" r="3.3" cx="357" cy="462"/><circle class="n" r="3.3" cx="330" cy="473"/><circle class="n" r="3.3" cx="346" cy="482"/><circle class="n" r="3.3" cx="367" cy="495"/><circle class="n" r="3.3" cx="395" cy="506"/><circle class="n" r="3.3" cx="411" cy="495"/><circle class="n" r="3.3" cx="383" cy="460"/><circle class="n" r="3.3" cx="376" cy="471"/><circle class="n" r="3.3" cx="382" cy="483"/><circle class="n" r="3.3" cx="408" cy="474"/><circle class="n" r="3.3" cx="430" cy="470"/><circle class="n" r="3.3" cx="458" cy="469"/><circle class="n" r="3.3" cx="470" cy="473"/><circle class="n" r="3.3" cx="471" cy="486"/><circle class="n" r="3.3" cx="497" cy="476"/><circle class="n" r="3.3" cx="439" cy="490"/><circle class="n" r="3.3" cx="447" cy="498"/><circle class="n" r="3.3" cx="435" cy="502"/>
</g>

<g id="captions">
<text class="cap" x="57" y="270" textLength="149" lengthAdjust="spacingAndGlyphs">(a) Email Network</text>
<text class="cap" x="306" y="270" textLength="227" lengthAdjust="spacingAndGlyphs">(b) Protein-Protein Network</text>
<text class="cap" x="56" y="529" textLength="177" lengthAdjust="spacingAndGlyphs">(c) Facebook Network</text>
<text class="cap" x="348" y="529" textLength="143" lengthAdjust="spacingAndGlyphs">(d) Gene Network</text>
</g>
</svg>
